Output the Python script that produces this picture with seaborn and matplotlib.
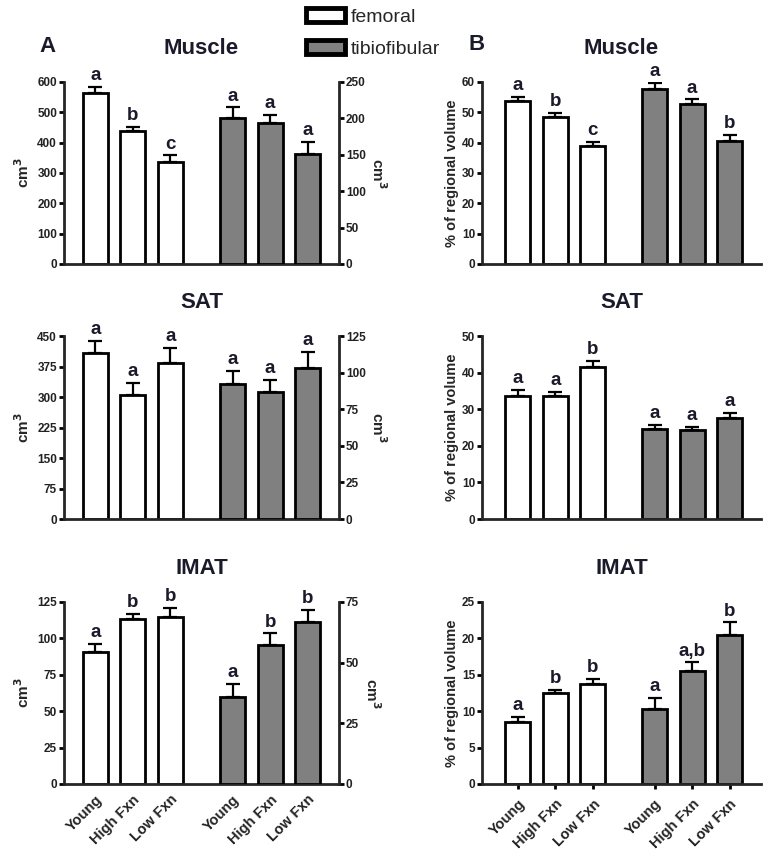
import numpy as np
import matplotlib.pyplot as plt
import seaborn as sns
from matplotlib.patches import Patch

# groups on the x axis (same for femoral and tibiofibular)
groups = ['Young', 'High Fxn', 'Low Fxn']

# A: absolute volume, cm3 (mean and upper SEM)
fem_muscle_cm3 = [565, 438, 335]
fem_muscle_cm3_sem = [20, 15, 23]
tib_muscle_cm3 = [201, 194, 151]
tib_muscle_cm3_sem = [14, 11, 17]
fem_sat_cm3 = [407, 305, 383]
fem_sat_cm3_sem = [31, 29, 37]
tib_sat_cm3 = [92, 87, 103]
tib_sat_cm3_sem = [9, 8, 11]
fem_imat_cm3 = [91, 113, 115]
fem_imat_cm3_sem = [5, 4, 6]
tib_imat_cm3 = [36, 57.4, 66.6]
tib_imat_cm3_sem = [5.2, 4.7, 5.1]

# B: % of regional volume
fem_muscle_pct = [53.8, 48.5, 39.0]
fem_muscle_pct_sem = [1.3, 1.3, 1.3]
tib_muscle_pct = [57.8, 52.9, 40.7]
tib_muscle_pct_sem = [2.0, 1.4, 1.9]
fem_sat_pct = [33.6, 33.6, 41.6]
fem_sat_pct_sem = [1.7, 1.2, 1.5]
tib_sat_pct = [24.6, 24.2, 27.7]
tib_sat_pct_sem = [1.1, 0.9, 1.3]
fem_imat_pct = [8.55, 12.5, 13.8]
fem_imat_pct_sem = [0.64, 0.4, 0.6]
tib_imat_pct = [10.24, 15.5, 20.5]
tib_imat_pct_sem = [1.56, 1.2, 1.7]

# significance letters
fem_muscle_cm3_sig = ['a', 'b', 'c']
tib_muscle_cm3_sig = ['a', 'a', 'a']
fem_sat_cm3_sig = ['a', 'a', 'a']
tib_sat_cm3_sig = ['a', 'a', 'a']
fem_imat_cm3_sig = ['a', 'b', 'b']
tib_imat_cm3_sig = ['a', 'b', 'b']
fem_muscle_pct_sig = ['a', 'b', 'c']
tib_muscle_pct_sig = ['a', 'a', 'b']
fem_sat_pct_sig = ['a', 'a', 'b']
tib_sat_pct_sig = ['a', 'a', 'a']
fem_imat_pct_sig = ['a', 'b', 'b']
tib_imat_pct_sig = ['a', 'a,b', 'b']

sns.set_theme(style='ticks')
plt.rcParams['font.family'] = ['Liberation Sans', 'DejaVu Sans']
plt.rcParams['font.weight'] = 'bold'
plt.rcParams['axes.labelweight'] = 'bold'
plt.rcParams['axes.linewidth'] = 2
for k in ['xtick', 'ytick']:
    plt.rcParams[k + '.major.width'] = 2
    plt.rcParams[k + '.major.size'] = 3.5
    plt.rcParams[k + '.major.pad'] = 1.5
    plt.rcParams[k + '.labelsize'] = 8.5
    plt.rcParams[k + '.color'] = 'black'
    plt.rcParams[k + '.labelcolor'] = '#222222'

WHITE = 'white'
GREY = '#808080'
TXT = '#1a1a2a'
fem_x = np.arange(3)
tib_x = fem_x + 3.65


def draw_bars(ax, x, means, sems, sig, color):
    sns.barplot(x=list(x), y=means, native_scale=True, color=color, saturation=1,
                edgecolor='black', linewidth=2, width=0.67, errorbar=None, ax=ax)
    ax.errorbar(x, means, yerr=[np.zeros(len(means)), sems], fmt='none',
                ecolor='black', elinewidth=1.6, capsize=5, capthick=1.6, zorder=3)
    for xi, m, e, s in zip(x, means, sems, sig):
        ax.annotate(s, (xi, m + e), xytext=(0, 2), textcoords='offset points',
                    ha='center', va='bottom', fontsize=13.5, fontweight='bold',
                    color=TXT)


fig = plt.figure(figsize=(7.79, 8.66), dpi=100)
W, H = 779, 866
rows = [(82, 264), (336, 519), (602, 784)]
colA = (64, 339)
colB = (482, 761)


def make_ax(col, row):
    return fig.add_axes([col[0] / W, 1 - row[1] / H, (col[1] - col[0]) / W,
                         (row[1] - row[0]) / H])


panelA = [
    ('Muscle', fem_muscle_cm3, fem_muscle_cm3_sem, fem_muscle_cm3_sig,
     tib_muscle_cm3, tib_muscle_cm3_sem, tib_muscle_cm3_sig, (600, 100), (250, 50)),
    ('SAT', fem_sat_cm3, fem_sat_cm3_sem, fem_sat_cm3_sig,
     tib_sat_cm3, tib_sat_cm3_sem, tib_sat_cm3_sig, (450, 75), (125, 25)),
    ('IMAT', fem_imat_cm3, fem_imat_cm3_sem, fem_imat_cm3_sig,
     tib_imat_cm3, tib_imat_cm3_sem, tib_imat_cm3_sig, (125, 25), (75, 25)),
]
panelB = [
    ('Muscle', fem_muscle_pct, fem_muscle_pct_sem, fem_muscle_pct_sig,
     tib_muscle_pct, tib_muscle_pct_sem, tib_muscle_pct_sig, (60, 10)),
    ('SAT', fem_sat_pct, fem_sat_pct_sem, fem_sat_pct_sig,
     tib_sat_pct, tib_sat_pct_sem, tib_sat_pct_sig, (50, 10)),
    ('IMAT', fem_imat_pct, fem_imat_pct_sem, fem_imat_pct_sig,
     tib_imat_pct, tib_imat_pct_sem, tib_imat_pct_sig, (25, 5)),
]

tick_labels = groups + groups


def finish(ax, i, title):
    ax.text(0.5, 1.185, title, transform=ax.transAxes, ha='center', va='center',
            fontsize=16, fontweight='bold', color=TXT)
    if i == 2:
        ax.set_xticks(np.concatenate([fem_x, tib_x]))
        ax.set_xticklabels(tick_labels, rotation=45, ha='right',
                           rotation_mode='anchor', fontsize=10.5)
        ax.tick_params(axis='x', pad=6)
    else:
        ax.set_xticks([])


for i, (title, fm, fs, fsig, tm, ts, tsig, ylA, ylB) in enumerate(panelA):
    ax = make_ax(colA, rows[i])
    ax2 = ax.twinx()
    draw_bars(ax, fem_x, fm, fs, fsig, WHITE)
    draw_bars(ax2, tib_x, tm, ts, tsig, GREY)
    ax.set_ylim(0, ylA[0])
    ax.set_yticks(np.arange(0, ylA[0] + 0.1, ylA[1]))
    ax2.set_ylim(0, ylB[0])
    ax2.set_yticks(np.arange(0, ylB[0] + 0.1, ylB[1]))
    ax.set_xlim(-0.83, 6.48)
    ax2.set_xlim(-0.83, 6.48)
    sns.despine(ax=ax, top=True, right=True)
    for s in ['top', 'left', 'bottom']:
        ax2.spines[s].set_visible(False)
    ax2.spines['right'].set_linewidth(2)
    ax.set_ylabel('cm$^3$', fontsize=11, labelpad=4)
    ax2.set_ylabel('cm$^3$', fontsize=11, rotation=270, labelpad=16)
    ax.tick_params(axis='x', length=0)
    finish(ax, i, title)

for i, (title, fm, fs, fsig, tm, ts, tsig, yl) in enumerate(panelB):
    ax = make_ax(colB, rows[i])
    draw_bars(ax, fem_x, fm, fs, fsig, WHITE)
    draw_bars(ax, tib_x, tm, ts, tsig, GREY)
    ax.set_ylim(0, yl[0])
    ax.set_yticks(np.arange(0, yl[0] + 0.1, yl[1]))
    ax.set_xlim(-0.96, 6.49)
    sns.despine(ax=ax, top=True, right=True)
    ax.set_ylabel('% of regional volume', fontsize=10.5, labelpad=2)
    finish(ax, i, title)

fig.text(47 / W, 1 - 47 / H, 'A', ha='center', va='center', fontsize=16,
         fontweight='bold', color=TXT)
fig.text(477 / W, 1 - 45 / H, 'B', ha='center', va='center', fontsize=16,
         fontweight='bold', color=TXT)

handles = [Patch(facecolor=WHITE, edgecolor='black', linewidth=3.5),
           Patch(facecolor=GREY, edgecolor='black', linewidth=3.5)]
fig.legend(handles, ['femoral', 'tibiofibular'], loc='upper left',
           bbox_to_anchor=(306 / W, 1 - 8 / H), frameon=False, borderpad=0,
           borderaxespad=0, handlelength=2.0, handleheight=0.7,
           handletextpad=0.3, labelspacing=0.75,
           prop={'family': 'Liberation Sans', 'weight': 'normal', 'size': 14})

fig.savefig('out.png', dpi=100)
